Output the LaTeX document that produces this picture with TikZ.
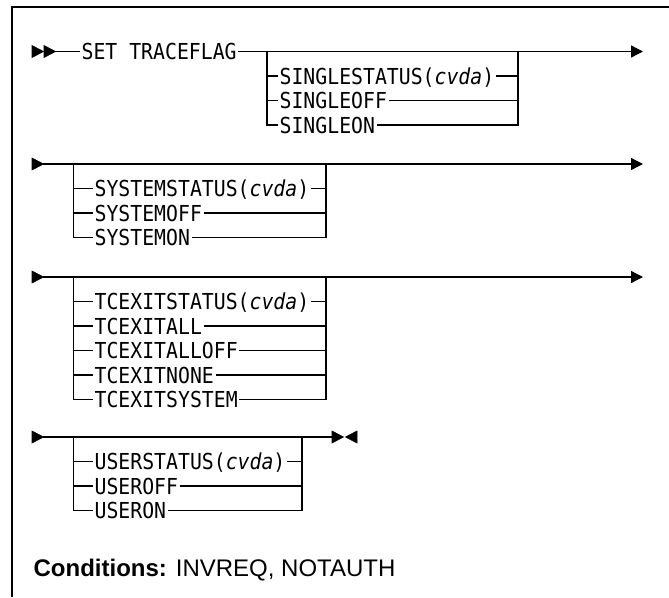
\documentclass[tikz,border=0pt]{standalone}
\usepackage{fontspec}
\usetikzlibrary{arrows.meta}
\newfontfamily\synfont[FakeStretch=0.9,ItalicFont={DejaVu Sans Mono Oblique}]{DejaVu Sans Mono}
\newfontfamily\condfont{Liberation Sans}
\tikzset{
  synline/.style={line width=1.3pt},
  opt/.style={font=\synfont\fontsize{22}{24}\selectfont, inner xsep=1pt, inner ysep=0pt,
    text height=16pt, text depth=0pt, anchor=west},
  endtip/.style={-{Triangle[length=12pt,width=12pt]}},
  headR/.pic={\filldraw[line width=0.6pt] (0,-6) -- (11.5,0) -- (0,6) -- cycle;},
  headL/.pic={\filldraw[line width=0.6pt] (11.5,-6) -- (0,0) -- (11.5,6) -- cycle;}
}
\begin{document}
\begin{tikzpicture}[x=1pt,y=-1pt,synline]
\useasboundingbox (0,0) rectangle (669,597);
\draw[line width=1.8pt] (669,7) -- (12,7) -- (12,597);

% SET TRACEFLAG + SINGLE...
\pic at (32,51.5) {headR};
\pic at (44,51.5) {headR};
\coordinate (a-s) at (55,51.5);
\coordinate (a-e) at (643,51.5);
\coordinate (a-l) at (267,51.5);
\coordinate (a-r) at (518,51.5);
\node[opt] (set) at (80,51.5) {SET TRACEFLAG};
\draw (a-s) -- (set.west);
\draw[endtip] (set.east) -- (a-e);
\foreach \lbl [count=\i] in {SINGLESTATUS(\textit{cvda}),SINGLEOFF,SINGLEON}
  \node[opt] (a\i) at (278,{51.5+24.5*\i}) {\lbl};
\draw (a-l) |- (a3.west);
\draw (a-r) |- (a3.east);
\foreach \i in {1,2} {
  \draw (a-l |- a\i.west) -- (a\i.west);
  \draw (a\i.east) -- (a-r |- a\i.east);
}

% SYSTEM...
\pic at (32,164) {headR};
\coordinate (b-s) at (43,164);
\coordinate (b-e) at (643,164);
\coordinate (b-l) at (73.5,164);
\coordinate (b-r) at (326,164);
\draw[endtip] (b-s) -- (b-e);
\foreach \lbl [count=\i] in {SYSTEMSTATUS(\textit{cvda}),SYSTEMOFF,SYSTEMON}
  \node[opt] (b\i) at (93,{164+24.5*\i}) {\lbl};
\draw (b-l) |- (b3.west);
\draw (b-r) |- (b3.east);
\foreach \i in {1,2} {
  \draw (b-l |- b\i.west) -- (b\i.west);
  \draw (b\i.east) -- (b-r |- b\i.east);
}

% TCEXIT...
\pic at (32,277) {headR};
\coordinate (c-s) at (43,277);
\coordinate (c-e) at (643,277);
\coordinate (c-l) at (73.5,277);
\coordinate (c-r) at (326,277);
\draw[endtip] (c-s) -- (c-e);
\foreach \lbl [count=\i] in {TCEXITSTATUS(\textit{cvda}),TCEXITALL,TCEXITALLOFF,TCEXITNONE,TCEXITSYSTEM}
  \node[opt] (c\i) at (93,{277+24.5*\i}) {\lbl};
\draw (c-l) |- (c5.west);
\draw (c-r) |- (c5.east);
\foreach \i in {1,...,4} {
  \draw (c-l |- c\i.west) -- (c\i.west);
  \draw (c\i.east) -- (c-r |- c\i.east);
}

% USER...
\pic at (32,437) {headR};
\coordinate (d-s) at (43,437);
\coordinate (d-e) at (332,437);
\coordinate (d-l) at (73.5,437);
\coordinate (d-r) at (302,437);
\draw (d-s) -- (d-e);
\pic at (332,437) {headR};
\pic at (345.5,437) {headL};
\foreach \lbl [count=\i] in {USERSTATUS(\textit{cvda}),USEROFF,USERON}
  \node[opt] (d\i) at (93,{437+24.5*\i}) {\lbl};
\draw (d-l) |- (d3.west);
\draw (d-r) |- (d3.east);
\foreach \i in {1,2} {
  \draw (d-l |- d\i.west) -- (d\i.west);
  \draw (d\i.east) -- (d-r |- d\i.east);
}

\node[font=\condfont\fontsize{24}{28}\selectfont, anchor=base west, inner sep=0pt] (cond)
  at (33,576) {\textbf{Conditions:} INVREQ, NOTAUTH};
\end{tikzpicture}
\end{document}
